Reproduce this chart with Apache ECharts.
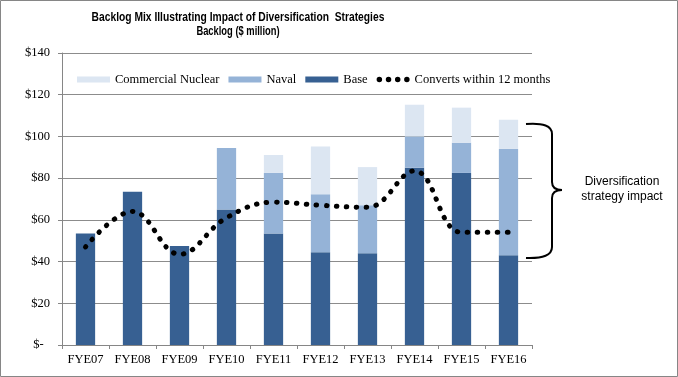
<!DOCTYPE html>
<html>
<head>
<meta charset="utf-8">
<script src="https://cdn.jsdelivr.net/npm/echarts@6/dist/echarts.min.js"></script>
<style>
  html, body { margin: 0; padding: 0; background: #fff; }
  #chart { width: 678px; height: 377px; }
</style>
</head>
<body>
<div id="chart"></div>
<script>
const categories = ['FYE07', 'FYE08', 'FYE09', 'FYE10', 'FYE11', 'FYE12', 'FYE13', 'FYE14', 'FYE15', 'FYE16'];
const baseData = [53.5, 73.5, 47.5, 65, 53.5, 44.5, 44, 85, 82.5, 43];
const navalData = [0, 0, 0, 29.5, 29, 27.8, 23, 15, 14.5, 51];
const commercialData = [0, 0, 0, 0, 8.6, 22.9, 18.3, 15.2, 16.8, 14];
const convertsData = [47, 64, 43.5, 61, 68.5, 67, 66, 83.5, 54, 54];
const yTicks = { min: 0, max: 140, interval: 20 };

const serif = '"Liberation Serif", "Times New Roman", serif';
const sans = '"Liberation Sans", Arial, sans-serif';

const chartDom = document.getElementById('chart');
const myChart = echarts.init(chartDom, null, { renderer: 'canvas' });

// four dots for the legend icon of the dotted line
const dotsIcon = 'path://M0,3a3,3 0 1,0 6,0a3,3 0 1,0 -6,0M10,3a3,3 0 1,0 6,0a3,3 0 1,0 -6,0' +
    'M20,3a3,3 0 1,0 6,0a3,3 0 1,0 -6,0M30,3a3,3 0 1,0 6,0a3,3 0 1,0 -6,0';

const braceStyle = { fill: 'none', stroke: '#000', lineWidth: 2 };

const option = {
    animation: false,
    grid: { left: 62, right: 146, top: 53, bottom: 32 },
    legend: {
        left: 72,
        top: 68,
        itemWidth: 33,
        itemHeight: 6,
        itemGap: 9,
        textStyle: { fontFamily: serif, fontSize: 12.5, color: '#000' },
        data: [
            { name: 'Commercial Nuclear', icon: 'rect' },
            { name: 'Naval', icon: 'rect' },
            { name: 'Base', icon: 'rect' },
            { name: 'Converts within 12 months', icon: dotsIcon }
        ]
    },
    xAxis: {
        type: 'category',
        data: categories,
        axisLine: { lineStyle: { color: '#868686' } },
        axisTick: { show: true, length: 4, lineStyle: { color: '#868686' } },
        axisLabel: { fontFamily: serif, fontSize: 12.5, color: '#000', margin: 8 }
    },
    yAxis: {
        type: 'value',
        min: yTicks.min,
        max: yTicks.max,
        interval: yTicks.interval,
        axisLine: { show: true, lineStyle: { color: '#868686' } },
        axisTick: { show: true, length: 4, lineStyle: { color: '#868686' } },
        splitLine: { lineStyle: { color: '#8c8c8c', width: 1 } },
        axisLabel: {
            fontFamily: serif,
            fontSize: 12.5,
            color: '#000',
            margin: 12,
            formatter: (v) => v === 0 ? '$-  ' : '$' + v
        }
    },
    series: [
        {
            name: 'Base',
            type: 'bar',
            stack: 'backlog',
            barWidth: '41%',
            data: baseData,
            itemStyle: { color: '#376092' }
        },
        {
            name: 'Naval',
            type: 'bar',
            stack: 'backlog',
            data: navalData,
            itemStyle: { color: '#95b3d7' }
        },
        {
            name: 'Commercial Nuclear',
            type: 'bar',
            stack: 'backlog',
            data: commercialData,
            itemStyle: { color: '#dce6f2' }
        },
        {
            name: 'Converts within 12 months',
            type: 'line',
            smooth: 0.4,
            data: convertsData,
            symbol: 'none',
            itemStyle: { color: '#000' },
            lineStyle: { color: '#000', width: 5, type: [0.5, 9.5], cap: 'round' },
            z: 5
        }
    ],
    graphic: [
        {
            type: 'rect',
            shape: { x: 0.5, y: 0.5, width: 677, height: 376 },
            style: { fill: 'none', stroke: '#868686', lineWidth: 1 },
            silent: true
        },
        {
            type: 'text',
            x: 238,
            y: 17,
            scaleX: 0.79,
            style: {
                text: 'Backlog Mix Illustrating Impact of Diversification  Strategies',
                textAlign: 'center',
                textVerticalAlign: 'middle',
                fontFamily: sans,
                fontSize: 13,
                fontWeight: 'bold',
                fill: '#000'
            }
        },
        {
            type: 'text',
            x: 238,
            y: 32,
            scaleX: 0.78,
            style: {
                text: 'Backlog ($ million)',
                textAlign: 'center',
                textVerticalAlign: 'middle',
                fontFamily: sans,
                fontSize: 12,
                fontWeight: 'bold',
                fill: '#000'
            }
        },
        // right brace
        { type: 'bezierCurve', shape: { x1: 526, y1: 124, x2: 552, y2: 134, cpx1: 552, cpy1: 122 }, style: braceStyle, silent: true },
        { type: 'line', shape: { x1: 552, y1: 134, x2: 552, y2: 182 }, style: braceStyle, silent: true },
        { type: 'bezierCurve', shape: { x1: 552, y1: 182, x2: 562, y2: 190, cpx1: 552, cpy1: 190 }, style: braceStyle, silent: true },
        { type: 'bezierCurve', shape: { x1: 562, y1: 190, x2: 552, y2: 198, cpx1: 552, cpy1: 190 }, style: braceStyle, silent: true },
        { type: 'line', shape: { x1: 552, y1: 198, x2: 552, y2: 247 }, style: braceStyle, silent: true },
        { type: 'bezierCurve', shape: { x1: 552, y1: 247, x2: 526, y2: 258, cpx1: 552, cpy1: 259 }, style: braceStyle, silent: true },
        {
            type: 'text',
            x: 622,
            y: 189,
            style: {
                text: 'Diversification\nstrategy impact',
                textAlign: 'center',
                textVerticalAlign: 'middle',
                fontFamily: sans,
                fontSize: 12,
                lineHeight: 15,
                fill: '#000'
            }
        }
    ]
};

myChart.setOption(option);
</script>
</body>
</html>
